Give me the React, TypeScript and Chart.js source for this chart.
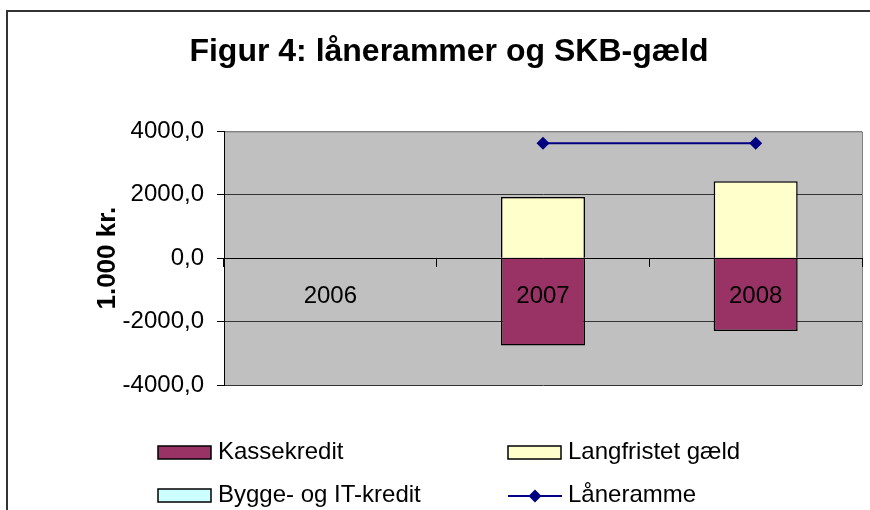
import React, { useEffect, useRef } from 'react';
import { Chart, registerables } from 'chart.js';

Chart.register(...registerables);

const categories = ['2006', '2007', '2008'];
const kassekredit = [null, -2750, -2300];
const langfristetGaeld = [null, 1930, 2430];
const byggeOgITKredit = [null, null, null];
const laaneramme = [null, 3630, 3630];
const yTicks = [-4000, -2000, 0, 2000, 4000];

const FONT = "'Liberation Sans', Arial, sans-serif";

const backgroundPlugin = {
  id: 'bgFrame',
  beforeDraw(chart: any) {
    const { ctx, chartArea: a } = chart;
    ctx.save();
    ctx.fillStyle = '#ffffff';
    ctx.fillRect(0, 0, chart.width, chart.height);
    ctx.strokeStyle = '#333333';
    ctx.lineWidth = 2;
    ctx.strokeRect(7, 11, chart.width + 40, chart.height + 40);
    ctx.fillStyle = '#C0C0C0';
    ctx.fillRect(a.left, a.top, a.right - a.left, a.bottom - a.top);
    ctx.strokeStyle = '#808080';
    ctx.lineWidth = 1;
    ctx.beginPath();
    ctx.moveTo(a.left, a.top + 0.5);
    ctx.lineTo(a.right + 0.5, a.top + 0.5);
    ctx.lineTo(a.right + 0.5, a.bottom);
    ctx.stroke();
    ctx.restore();
  },
};

const legendPlugin = {
  id: 'twoColLegend',
  afterDraw(chart: any) {
    const { ctx } = chart;
    const slots = [
      { x: 158, y: 452 },
      { x: 508, y: 452 },
      { x: 158, y: 495 },
      { x: 508, y: 495 },
    ];
    ctx.save();
    chart.data.datasets.forEach((ds: any, i: number) => {
      const s = slots[i];
      if (!s) return;
      if (ds.type === 'line') {
        ctx.strokeStyle = ds.borderColor;
        ctx.lineWidth = 2;
        ctx.beginPath();
        ctx.moveTo(s.x, s.y + 1);
        ctx.lineTo(s.x + 54, s.y + 1);
        ctx.stroke();
        const cx = s.x + 27;
        const cy = s.y + 1;
        const r = 6.5;
        ctx.fillStyle = ds.pointBackgroundColor;
        ctx.beginPath();
        ctx.moveTo(cx, cy - r);
        ctx.lineTo(cx + r, cy);
        ctx.lineTo(cx, cy + r);
        ctx.lineTo(cx - r, cy);
        ctx.closePath();
        ctx.fill();
      } else {
        ctx.fillStyle = ds.backgroundColor;
        ctx.fillRect(s.x, s.y - 6, 53, 13);
        ctx.strokeStyle = '#000';
        ctx.lineWidth = 1.5;
        ctx.strokeRect(s.x, s.y - 6, 53, 13);
      }
      ctx.fillStyle = '#000';
      ctx.font = `24px ${FONT}`;
      ctx.textBaseline = 'middle';
      ctx.textAlign = 'left';
      ctx.fillText(ds.label, s.x + 60, s.y);
    });
    ctx.restore();
  },
};

export default function App() {
  const ref = useRef<HTMLCanvasElement | null>(null);

  useEffect(() => {
    if (!ref.current) return;
    const chart = new Chart(ref.current, {
      type: 'bar',
      data: {
        labels: categories,
        datasets: [
          {
            type: 'bar',
            label: 'Kassekredit',
            data: kassekredit,
            backgroundColor: '#993366',
            borderColor: '#000000',
            borderWidth: 1.5,
            order: 1,
          },
          {
            type: 'bar',
            label: 'Langfristet gæld',
            data: langfristetGaeld,
            backgroundColor: '#FFFFCC',
            borderColor: '#000000',
            borderWidth: 1.5,
            order: 1,
          },
          {
            type: 'bar',
            label: 'Bygge- og IT-kredit',
            data: byggeOgITKredit,
            backgroundColor: '#CCFFFF',
            borderColor: '#000000',
            borderWidth: 1.5,
            order: 1,
          },
          {
            type: 'line',
            label: 'Låneramme',
            data: laaneramme,
            borderColor: '#000080',
            backgroundColor: '#000080',
            pointBackgroundColor: '#000080',
            pointBorderColor: '#000080',
            pointStyle: 'rectRot',
            pointRadius: 6.5,
            pointBorderWidth: 0,
            borderWidth: 2,
            stack: 'line',
            order: 0,
          },
        ] as any,
      },
      options: {
        animation: false,
        responsive: false,
        devicePixelRatio: 1,
        events: [],
        datasets: {
          bar: { categoryPercentage: 1, barPercentage: 0.395 },
        },
        layout: { padding: { left: 36, right: 8, top: 20, bottom: 125 } },
        plugins: {
          legend: { display: false },
          tooltip: { enabled: false },
          title: {
            display: true,
            text: 'Figur 4: lånerammer og SKB-gæld',
            color: '#000',
            font: { family: FONT, size: 32, weight: 'bold' },
            padding: { top: 13, bottom: 60 },
          },
        },
        scales: {
          x: {
            type: 'category',
            stacked: true,
            position: { y: 0 } as any,
            offset: true,
            grid: {
              display: true,
              drawOnChartArea: false,
              drawTicks: true,
              tickLength: 8,
              color: '#000',
              offset: true,
            },
            border: { display: true, color: '#000', width: 1 },
            ticks: {
              z: 1,
              color: '#000',
              font: { family: FONT, size: 24 },
              padding: 16,
              maxRotation: 0,
              autoSkip: false,
            },
          },
          y: {
            stacked: true,
            min: -4000,
            max: 4000,
            afterBuildTicks: (s: any) => {
              s.ticks = yTicks.map((v) => ({ value: v }));
            },
            afterFit: (s: any) => {
              s.width = 188;
            },
            grid: {
              color: (c: any) => (c.tick && c.tick.value === 4000 ? '#808080' : '#333333'),
              tickColor: '#000',
              tickLength: 7,
              drawTicks: true,
            },
            border: { display: true, color: '#000', width: 1 },
            ticks: {
              color: '#000',
              font: { family: FONT, size: 24 },
              padding: 13,
              callback: (v: any) => Number(v).toFixed(1).replace('.', ','),
            },
            title: {
              display: true,
              text: '1.000 kr.',
              color: '#000',
              font: { family: FONT, size: 26, weight: 'bold' },
              padding: { top: 56.4, bottom: 0 },
            },
          },
        },
      },
      plugins: [backgroundPlugin, legendPlugin],
    });
    return () => chart.destroy();
  }, []);

  return (
    <div style={{ position: 'absolute', left: 0, top: 0, width: 870, height: 510 }}>
      <canvas ref={ref} width={870} height={510} style={{ display: 'block' }} />
    </div>
  );
}
